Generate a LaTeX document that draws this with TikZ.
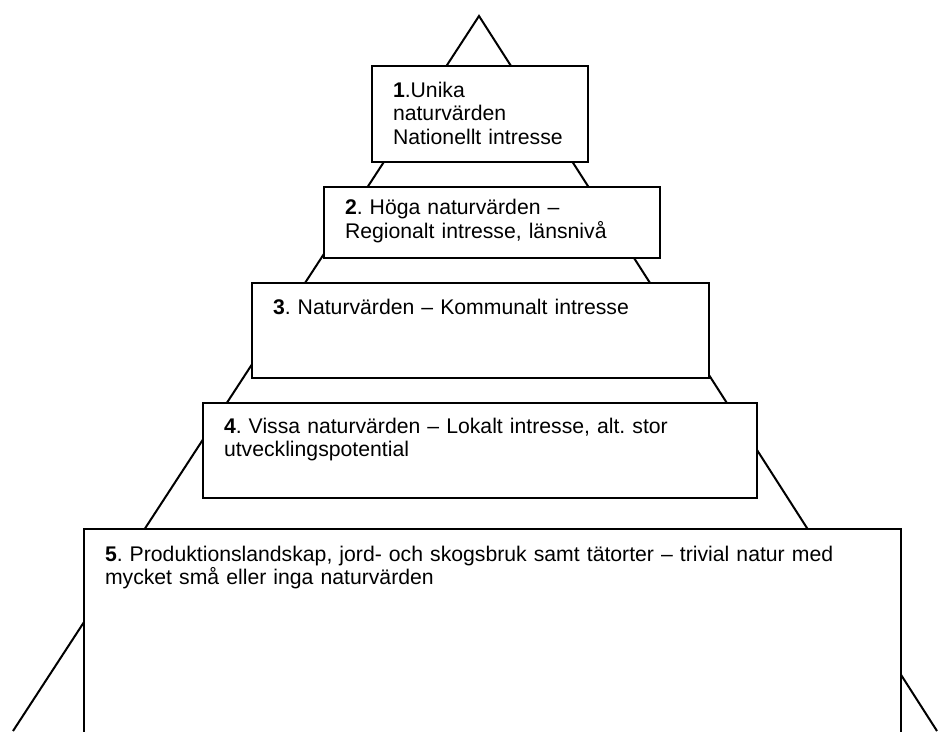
\documentclass[tikz,border=0pt]{standalone}
\usepackage{fontspec}
\setmainfont{Liberation Sans}

\begin{document}
\frenchspacing
\begin{tikzpicture}[
    x=1pt, y=-1pt,
    tier/.style={rectangle, draw, line width=2pt, fill=white, anchor=north west, align=left, inner xsep=21pt, inner ysep=0pt, font=\fontsize{21.2}{23.5}\selectfont}
]
\clip (0,0) rectangle (939,731);

% Pyramid outline
\coordinate (apex) at (479,16);
\coordinate (baseL) at (13,731);
\coordinate (baseR) at (937,731);
\draw[line width=2pt] (baseL) -- (apex) -- (baseR);

% Tier 1
\node[tier, text width=174pt, text height=31pt, text depth=65pt] (tier1) at (371,65) {
    \textbf{1}.Unika\\
    naturvärden\\
    Nationellt intresse
};

% Tier 2
\node[tier, text width=294pt, text height=27.5pt, text depth=43.5pt] (tier2) at (323,186) {
    \textbf{2}. Höga naturvärden –\\
    Regionalt intresse, länsnivå
};

% Tier 3
\node[tier, text width=415pt, text height=31pt, text depth=64pt] (tier3) at (251,282) {
    \textbf{3}. Naturvärden – Kommunalt intresse
};

% Tier 4
\node[tier, text width=512pt, text height=30pt, text depth=65pt] (tier4) at (202,402) {
    \textbf{4}. Vissa naturvärden – Lokalt intresse, alt. stor\\
    utvecklingspotential
};

% Tier 5
\node[tier, text width=775pt, text height=32pt, text depth=200pt] (tier5) at (83,528) {
    \textbf{5}. Produktionslandskap, jord- och skogsbruk samt tätorter – trivial natur med\\
    mycket små eller inga naturvärden
};

\end{tikzpicture}
\end{document}
